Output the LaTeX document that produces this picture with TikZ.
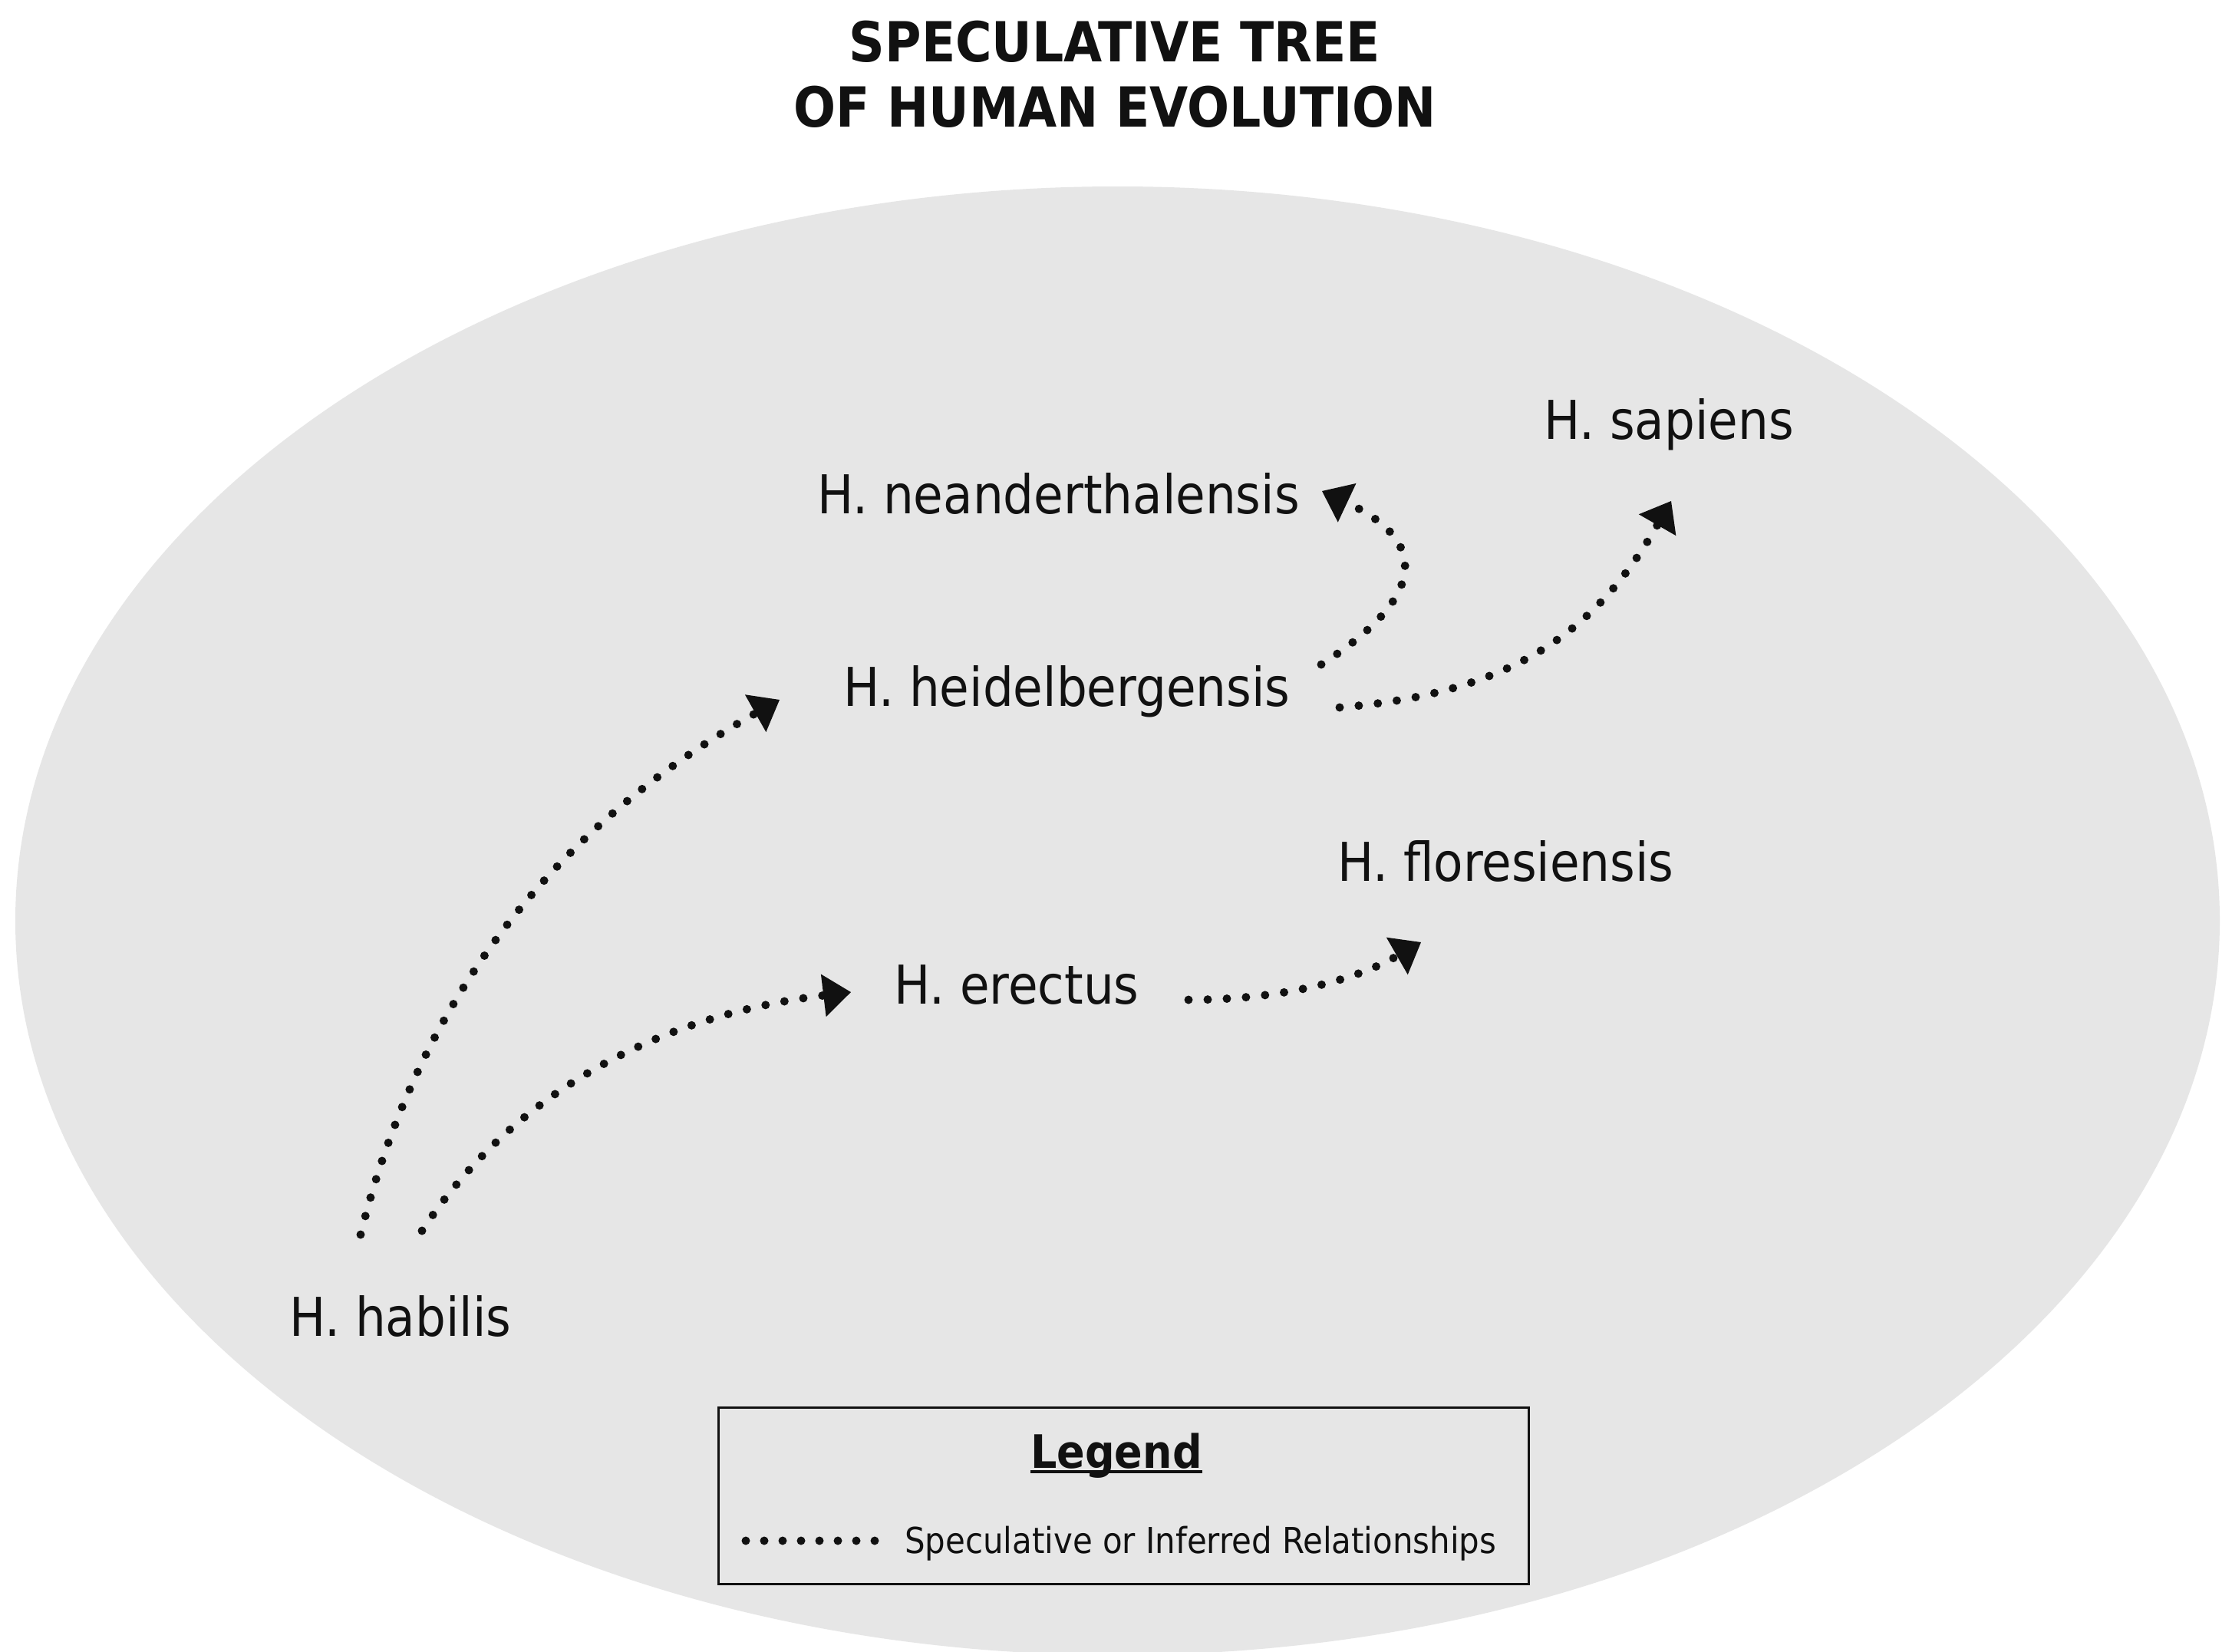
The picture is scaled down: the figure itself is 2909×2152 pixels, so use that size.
\documentclass[tikz,border=0pt]{standalone}
\usepackage{fontspec}
\setmainfont{DejaVu Sans Condensed}
\usetikzlibrary{arrows.meta}
\definecolor{ellgray}{RGB}{230,230,230}
\definecolor{ink}{RGB}{17,17,17}
\tikzset{
  specie/.style={font=\fontsize{69.8}{80}\selectfont, text=ink, inner sep=0pt, anchor=base west},
  titleline/.style={font=\fontsize{72}{85}\selectfont\bfseries, text=ink, inner sep=0pt, anchor=base},
  spec/.style={draw=ink, line width=11pt, line cap=round, dash pattern=on 0pt off 25pt},
  spectip/.style={-{Triangle[length=36pt,width=56pt,line width=0pt]}},
}
\begin{document}
\begin{tikzpicture}[x=1pt,y=-1pt]
\useasboundingbox (0,0) rectangle (2909,2152);
\fill[white] (0,0) rectangle (2909,2152);
\begin{scope}
\clip (0,0) rectangle (2909,2152);
\fill[ellgray] (1456.5,1200) ellipse [x radius=1436.5pt, y radius=957pt];
\end{scope}

% title
\node[titleline] (title1) at (1453,80) {SPECULATIVE TREE};
\node[titleline] (title2) at (1453,165) {OF HUMAN EVOLUTION};

% species
\node[specie] (sapiens) at (2012,572) {H. sapiens};
\node[specie] (neander) at (1065,669) {H. neanderthalensis};
\node[specie] (heidel) at (1099,920) {H. heidelbergensis};
\node[specie] (flores) at (1743,1148) {H. floresiensis};
\node[specie] (erectus) at (1165,1308) {H. erectus};
\node[specie] (habilis) at (377,1741) {H. habilis};

% connector end points
\coordinate (habA) at (470,1609);
\coordinate (heiIn) at (1016,912);
\coordinate (habB) at (550,1604);
\coordinate (ereIn) at (1109,1293);
\coordinate (heiA) at (1722,866);
\coordinate (neaIn) at (1723,640);
\coordinate (heiB) at (1746,922);
\coordinate (sapIn) at (2178,653);
\coordinate (ereOut) at (1549,1303);
\coordinate (floIn) at (1852,1228);

\draw[spec,spectip] (habA) .. controls (554,1269) and (755,1059) .. (heiIn);
\draw[spec,spectip] (habB) .. controls (671,1421) and (862,1323) .. (ereIn);
\draw[spec,spectip] (heiA) .. controls (1856,780) and (1866,707) .. (neaIn);
\draw[spec,spectip] (heiB) .. controls (1966,904) and (2078,827) .. (sapIn);
\draw[spec,spectip] (ereOut) .. controls (1669,1303) and (1765,1278) .. (floIn);

% legend
\node[draw=ink, line width=3pt, minimum width=1056pt, minimum height=230pt, inner sep=0pt, anchor=north west] (legendbox) at (935,1833) {};
\node[font=\fontsize{60}{70}\selectfont\bfseries, text=ink, inner sep=0pt, anchor=base] (leghead) at (1455,1913) {Legend};
\draw[ink, line width=4pt] ([yshift=-5pt]leghead.base west) -- ([yshift=-5pt]leghead.base east);
\coordinate (legS) at (972,2008);
\coordinate (legE) at (1140,2008);
\draw[spec, dash pattern=on 0pt off 24pt] (legS) -- (legE);
\node[font=\fontsize{46.6}{55}\selectfont, text=ink, inner sep=0pt, anchor=base west] (legtext) at (1179,2024) {Speculative or Inferred Relationships};
\end{tikzpicture}
\end{document}
